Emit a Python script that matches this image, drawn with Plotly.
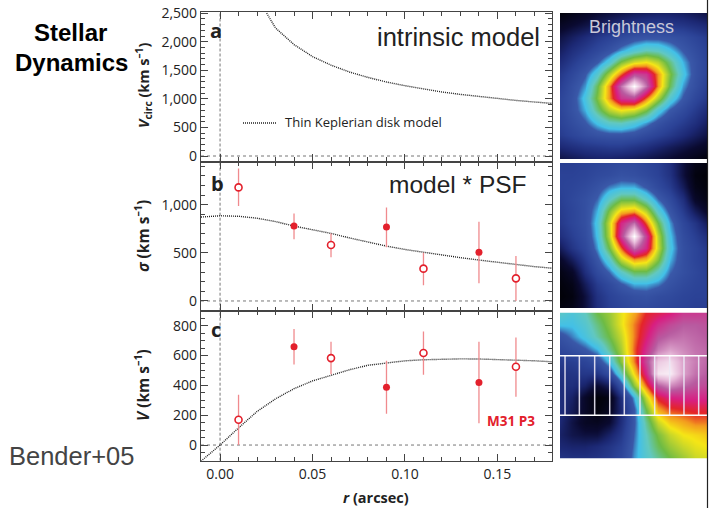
import plotly.graph_objects as go

W, H = 717, 508

# ---- data ----
kepler_r = [0.0252, 0.03, 0.04, 0.05, 0.06, 0.07, 0.08, 0.09, 0.10, 0.11, 0.12, 0.13, 0.14, 0.15, 0.16, 0.17, 0.18]
kepler_v = [2500, 2240, 1950, 1740, 1590, 1470, 1375, 1295, 1230, 1170, 1120, 1078, 1040, 1005, 973, 945, 920]

sigma_model_r = [-0.0103, 0.0, 0.01, 0.02, 0.03, 0.04, 0.05, 0.06, 0.07, 0.08, 0.09, 0.10, 0.11, 0.12, 0.13, 0.14, 0.15, 0.16, 0.17, 0.18]
sigma_model = [872, 885, 880, 860, 825, 778, 740, 702, 655, 612, 570, 535, 505, 478, 450, 425, 400, 377, 357, 340]

vel_model_r = [-0.0103, 0.0, 0.01, 0.02, 0.03, 0.04, 0.05, 0.06, 0.07, 0.08, 0.09, 0.10, 0.11, 0.12, 0.13, 0.14, 0.15, 0.16, 0.17, 0.18]
vel_model = [-108, 0, 115, 225, 310, 378, 430, 468, 505, 535, 552, 565, 572, 576, 578, 577, 574, 570, 565, 558]

open_r = [0.01, 0.06, 0.11, 0.16]
filled_r = [0.04, 0.09, 0.14]

sigma_open = [1180, 581, 336, 235]
sigma_open_hi = [1377, 702, 502, 467]
sigma_open_lo = [986, 453, 163, 0]
sigma_filled = [778, 768, 505]
sigma_filled_hi = [910, 972, 824]
sigma_filled_lo = [640, 557, 183]

vel_open = [170, 583, 617, 525]
vel_open_hi = [337, 693, 762, 722]
vel_open_lo = [0, 474, 471, 324]
vel_filled = [659, 387, 420]
vel_filled_hi = [778, 565, 693]
vel_filled_lo = [541, 210, 147]

x_ticks = [0.0, 0.05, 0.10, 0.15]

# image panels: levels on a coarse grid, read by eye
brightness_model = [
    [3, 6, 9, 12, 14, 16, 18, 19, 20, 20, 19, 17, 15],
    [9, 12, 15, 18, 21, 24, 26, 28, 28, 27, 26, 24, 22],
    [15, 19, 23, 27, 30, 33, 36, 37, 37, 36, 34, 31, 28],
    [19, 24, 28, 32, 36, 41, 45, 48, 47, 43, 38, 34, 30],
    [23, 28, 33, 38, 45, 55, 61, 63, 59, 51, 42, 36, 31],
    [27, 32, 38, 46, 58, 70, 82, 80, 68, 55, 44, 36, 31],
    [29, 35, 41, 53, 68, 86, 100, 86, 68, 53, 41, 35, 29],
    [31, 36, 44, 55, 68, 80, 82, 70, 58, 46, 38, 32, 27],
    [31, 36, 42, 51, 59, 63, 61, 55, 45, 38, 33, 28, 23],
    [30, 34, 38, 43, 47, 48, 45, 41, 36, 32, 28, 24, 19],
    [28, 31, 34, 36, 37, 37, 36, 33, 30, 27, 23, 19, 15],
    [22, 24, 26, 27, 28, 28, 26, 24, 21, 18, 15, 12, 9],
    [15, 17, 19, 20, 20, 19, 18, 16, 14, 12, 9, 6, 3],
]
brightness_psf = [
    [29, 29, 30, 31, 32, 33, 33, 31, 29, 24, 14, 6, 4],
    [30, 30, 31, 33, 34, 36, 35, 33, 30, 25, 14, 4, 2],
    [30, 31, 33, 36, 40, 42, 42, 38, 33, 28, 18, 6, 3],
    [29, 32, 35, 39, 47, 53, 53, 47, 39, 33, 24, 10, 5],
    [28, 31, 35, 42, 55, 65, 67, 59, 46, 37, 28, 18, 10],
    [27, 31, 35, 44, 60, 78, 86, 70, 54, 41, 32, 26, 18],
    [24, 29, 34, 43, 59, 81, 100, 81, 59, 43, 34, 29, 24],
    [18, 26, 32, 41, 54, 70, 86, 78, 60, 44, 35, 31, 27],
    [10, 18, 28, 37, 46, 59, 67, 65, 55, 42, 35, 31, 28],
    [5, 10, 24, 33, 39, 47, 53, 53, 47, 39, 35, 32, 29],
    [3, 6, 18, 28, 33, 38, 42, 42, 40, 36, 33, 31, 30],
    [2, 4, 14, 25, 30, 33, 35, 36, 34, 33, 31, 30, 30],
    [4, 6, 14, 24, 29, 31, 33, 33, 32, 31, 30, 29, 29],
]
velocity_map = [
    [47, 45, 48, 54, 57, 62, 67, 72, 74, 76, 80, 80, 81],
    [43, 43, 46, 51, 56, 62, 69, 74, 79, 82, 84, 84, 83],
    [36, 40, 44, 49, 54, 60, 69, 76, 83, 85, 86, 85, 84],
    [32, 35, 38, 42, 50, 58, 70, 79, 87, 90, 88, 86, 85],
    [28, 29, 31, 35, 43, 56, 69, 82, 94, 96, 90, 87, 85],
    [25, 26, 27, 26, 34, 48, 64, 78, 97, 98, 90, 86, 84],
    [24, 24, 20, 12, 18, 36, 56, 70, 84, 88, 85, 83, 82],
    [24, 20, 10, 2, 5, 24, 42, 60, 73, 77, 78, 78, 78],
    [24, 18, 10, 3, 8, 22, 38, 54, 67, 71, 72, 73, 73],
    [22, 15, 9, 8, 12, 24, 38, 50, 60, 65, 67, 69, 69],
    [20, 16, 14, 14, 20, 27, 39, 48, 55, 60, 63, 64, 65],
    [22, 21, 21, 23, 26, 30, 40, 47, 53, 57, 60, 62, 63],
    [26, 25, 25, 26, 28, 32, 41, 46, 50, 54, 57, 60, 61],
]
grid_cols = list(range(13))
grid_rows = list(range(13))
slit_cols = [0.41, 1.58, 2.83, 4.06, 5.25, 6.53, 7.73, 8.95, 10.12, 11.32]
slit_rows = [3.55, 8.45]

rainbow = [
    [0.00, "#000000"], [0.12, "#0a0a30"], [0.22, "#1c2874"], [0.30, "#2b4296"], [0.385, "#3a58a8"],
    [0.425, "#42c0e8"], [0.48, "#62c8c0"], [0.54, "#6dbb45"], [0.59, "#b8d230"], [0.63, "#f5e616"],
    [0.68, "#f39a1f"], [0.72, "#e42528"], [0.77, "#d81f82"], [0.84, "#b85ba0"],
    [0.92, "#e6b8d8"], [1.00, "#ffffff"],
]

# ---- layout helpers ----
def px_x(p):
    return p / W

def px_y(p):
    return 1 - p / H

TEXT = "#222222"
AXIS = "#444444"
RED = "#e3202c"
ERR = "#f08a8e"
LABEL_FONT = "Open Sans"

fig = go.Figure()

def model(x, y, ax):
    fig.add_trace(go.Scatter(x=x, y=y, mode="lines", xaxis="x" + ax, yaxis="y" + ax,
                             line=dict(color="#222222", width=1.4, dash="1px,1px"),
                             showlegend=False, hoverinfo="skip"))

def points(x, y, hi, lo, ax, hollow):
    fig.add_trace(go.Scatter(
        x=x, y=y, mode="markers", xaxis="x" + ax, yaxis="y" + ax, showlegend=False,
        error_y=dict(type="data", symmetric=False,
                     array=[h - v for h, v in zip(hi, y)],
                     arrayminus=[v - l for v, l in zip(y, lo)],
                     color=ERR, thickness=1.3, width=0),
        marker=dict(size=7, color="white" if hollow else RED,
                    line=dict(color=RED, width=1.6 if hollow else 0)),
    ))

model(kepler_r, kepler_v, "")
model(sigma_model_r, sigma_model, "2")
points(filled_r, sigma_filled, sigma_filled_hi, sigma_filled_lo, "2", False)
points(open_r, sigma_open, sigma_open_hi, sigma_open_lo, "2", True)
model(vel_model_r, vel_model, "3")
points(filled_r, vel_filled, vel_filled_hi, vel_filled_lo, "3", False)
points(open_r, vel_open, vel_open_hi, vel_open_lo, "3", True)

for z, ax in [(brightness_model, "4"), (brightness_psf, "5"), (velocity_map, "6")]:
    fig.add_trace(go.Heatmap(z=z, x=grid_cols, y=grid_rows, xaxis="x" + ax, yaxis="y" + ax,
                             colorscale=rainbow, zmin=0, zmax=100, zsmooth="best",
                             showscale=False, hoverinfo="skip"))

for c in slit_cols:
    fig.add_trace(go.Scatter(x=[c, c], y=[slit_rows[0], slit_rows[1]], mode="lines",
                             xaxis="x6", yaxis="y6", showlegend=False, hoverinfo="skip",
                             line=dict(color="rgba(235,232,245,0.9)", width=1.5)))
for r in slit_rows:
    fig.add_trace(go.Scatter(x=[0, 12], y=[r, r], mode="lines",
                             xaxis="x6", yaxis="y6", showlegend=False, hoverinfo="skip",
                             line=dict(color="white", width=1.5)))

def xaxis(labels=False, anchor="y"):
    return dict(
        domain=[px_x(201), px_x(552)], range=[-0.0103, 0.1795], anchor=anchor,
        showgrid=False, zeroline=False, showline=True, linecolor=AXIS, linewidth=1.2, mirror="ticks",
        ticks="inside", ticklen=7, tickwidth=1.2, tickcolor=AXIS,
        tickvals=x_ticks, tickformat=".2f", showticklabels=labels,
        tickfont=dict(family=LABEL_FONT, size=14, color=TEXT),
        minor=dict(dtick=0.01, tick0=0, ticks="inside", ticklen=4, tickwidth=1, tickcolor=AXIS, showgrid=False),
    )

def yaxis(top, bottom, rng, major, minor, anchor):
    return dict(
        domain=[px_y(bottom), px_y(top)], range=rng, anchor=anchor,
        showgrid=False, zeroline=False, showline=True, linecolor=AXIS, linewidth=1.2, mirror="ticks",
        ticks="inside", ticklen=7, tickwidth=1.2, tickcolor=AXIS,
        dtick=major, tick0=0, tickformat=",d",
        tickfont=dict(family=LABEL_FONT, size=14, color=TEXT),
        minor=dict(dtick=minor, tick0=0, ticks="inside", ticklen=4, tickwidth=1, tickcolor=AXIS, showgrid=False),
    )

def image_axes(left, right, top, bottom, anchor_x, anchor_y):
    xa = dict(domain=[px_x(left), px_x(right)], range=[0, 12], anchor=anchor_y, visible=False)
    ya = dict(domain=[px_y(bottom), px_y(top)], range=[12, 0], anchor=anchor_x, visible=False)
    return xa, ya

x4, y4 = image_axes(560, 707, 13, 159, "x4", "y4")
x5, y5 = image_axes(560, 707, 163, 308, "x5", "y5")
x6, y6 = image_axes(560, 707, 312.5, 458.5, "x6", "y6")

fig.update_layout(
    width=W, height=H, margin=dict(l=0, r=0, t=0, b=0, autoexpand=False),
    paper_bgcolor="white", plot_bgcolor="white", showlegend=False,
    xaxis=xaxis(False, "y"),
    yaxis=yaxis(12, 161.5, [-96, 2520], 500, 100, "x"),
    xaxis2=xaxis(False, "y2"),
    yaxis2=yaxis(161.5, 310.7, [-101, 1449], 500, 100, "x2"),
    xaxis3=xaxis(True, "y3"),
    yaxis3=yaxis(310.7, 460.7, [-105, 901], 200, 50, "x3"),
    xaxis4=x4, yaxis4=y4, xaxis5=x5, yaxis5=y5, xaxis6=x6, yaxis6=y6,
)

# dashed reference lines at r = 0 and at zero on each panel
for xr, yr, top_val, bot_val in [("x", "y", 2520, -96), ("x2", "y2", 1449, -101), ("x3", "y3", 901, -105)]:
    fig.add_shape(type="line", xref=xr, yref=yr, x0=0, x1=0, y0=bot_val, y1=top_val,
                  line=dict(color="#777777", width=1, dash="3px,2px"), layer="below")
    fig.add_shape(type="line", xref=xr, yref=yr, x0=-0.0103, x1=0.1795, y0=0, y1=0,
                  line=dict(color="#777777", width=1, dash="3px,3px"), layer="below")

# legend sample for the Keplerian curve
fig.add_shape(type="line", xref="paper", yref="paper", x0=px_x(243), x1=px_x(277), y0=px_y(123), y1=px_y(123),
              line=dict(color="#222222", width=1.3, dash="1px,1px"))
# thin rule at the right of the image column
fig.add_shape(type="line", xref="paper", yref="paper", x0=px_x(707.5), x1=px_x(707.5), y0=0, y1=1,
              line=dict(color="#222222", width=1.2))

def text(s, x, y, size, color="#111111", family="Liberation Sans", anchor="center", angle=0):
    fig.add_annotation(text=s, x=px_x(x), y=px_y(y), xref="paper", yref="paper", showarrow=False,
                       font=dict(size=size, color=color, family=family), xanchor=anchor, yanchor="middle",
                       textangle=angle, borderpad=0, borderwidth=0)

text("<b>Stellar</b>", 70, 32, 24, "#000000")
text("<b>Dynamics</b>", 71, 62, 24, "#000000")
text("intrinsic model", 458, 37, 25.5, "#222222")
text("model * PSF", 458, 184, 24.5, "#222222")
text("Bender+05", 71, 456, 25.5, "#444444")
text("Brightness", 631, 27, 18, "#c8c8d8")
text("Thin Keplerian disk model", 363, 122, 13, TEXT, LABEL_FONT)
text("<b>a</b>", 216, 30, 20, TEXT, LABEL_FONT)
text("<b>b</b>", 217, 183, 20, TEXT, LABEL_FONT)
text("<b>c</b>", 216, 329, 20, TEXT, LABEL_FONT)
text("<b>M31 P3</b>", 511, 421, 13.5, RED, LABEL_FONT)
text("<b><i>r</i> (arcsec)</b>", 376, 497, 14.5, TEXT, LABEL_FONT)
text("<b><i>V</i><sub>circ</sub> (km s<sup>–1</sup>)</b>", 143, 86, 14.5, TEXT, LABEL_FONT, angle=-90)
text("<b><i>σ</i> (km s<sup>–1</sup>)</b>", 142, 236, 15.5, TEXT, LABEL_FONT, angle=-90)
text("<b><i>V</i> (km s<sup>–1</sup>)</b>", 142, 385, 15.5, TEXT, LABEL_FONT, angle=-90)

fig.write_html("out.html", config=dict(displayModeBar=False),
               post_script="document.body.style.margin='0';document.body.style.overflow='hidden';")
